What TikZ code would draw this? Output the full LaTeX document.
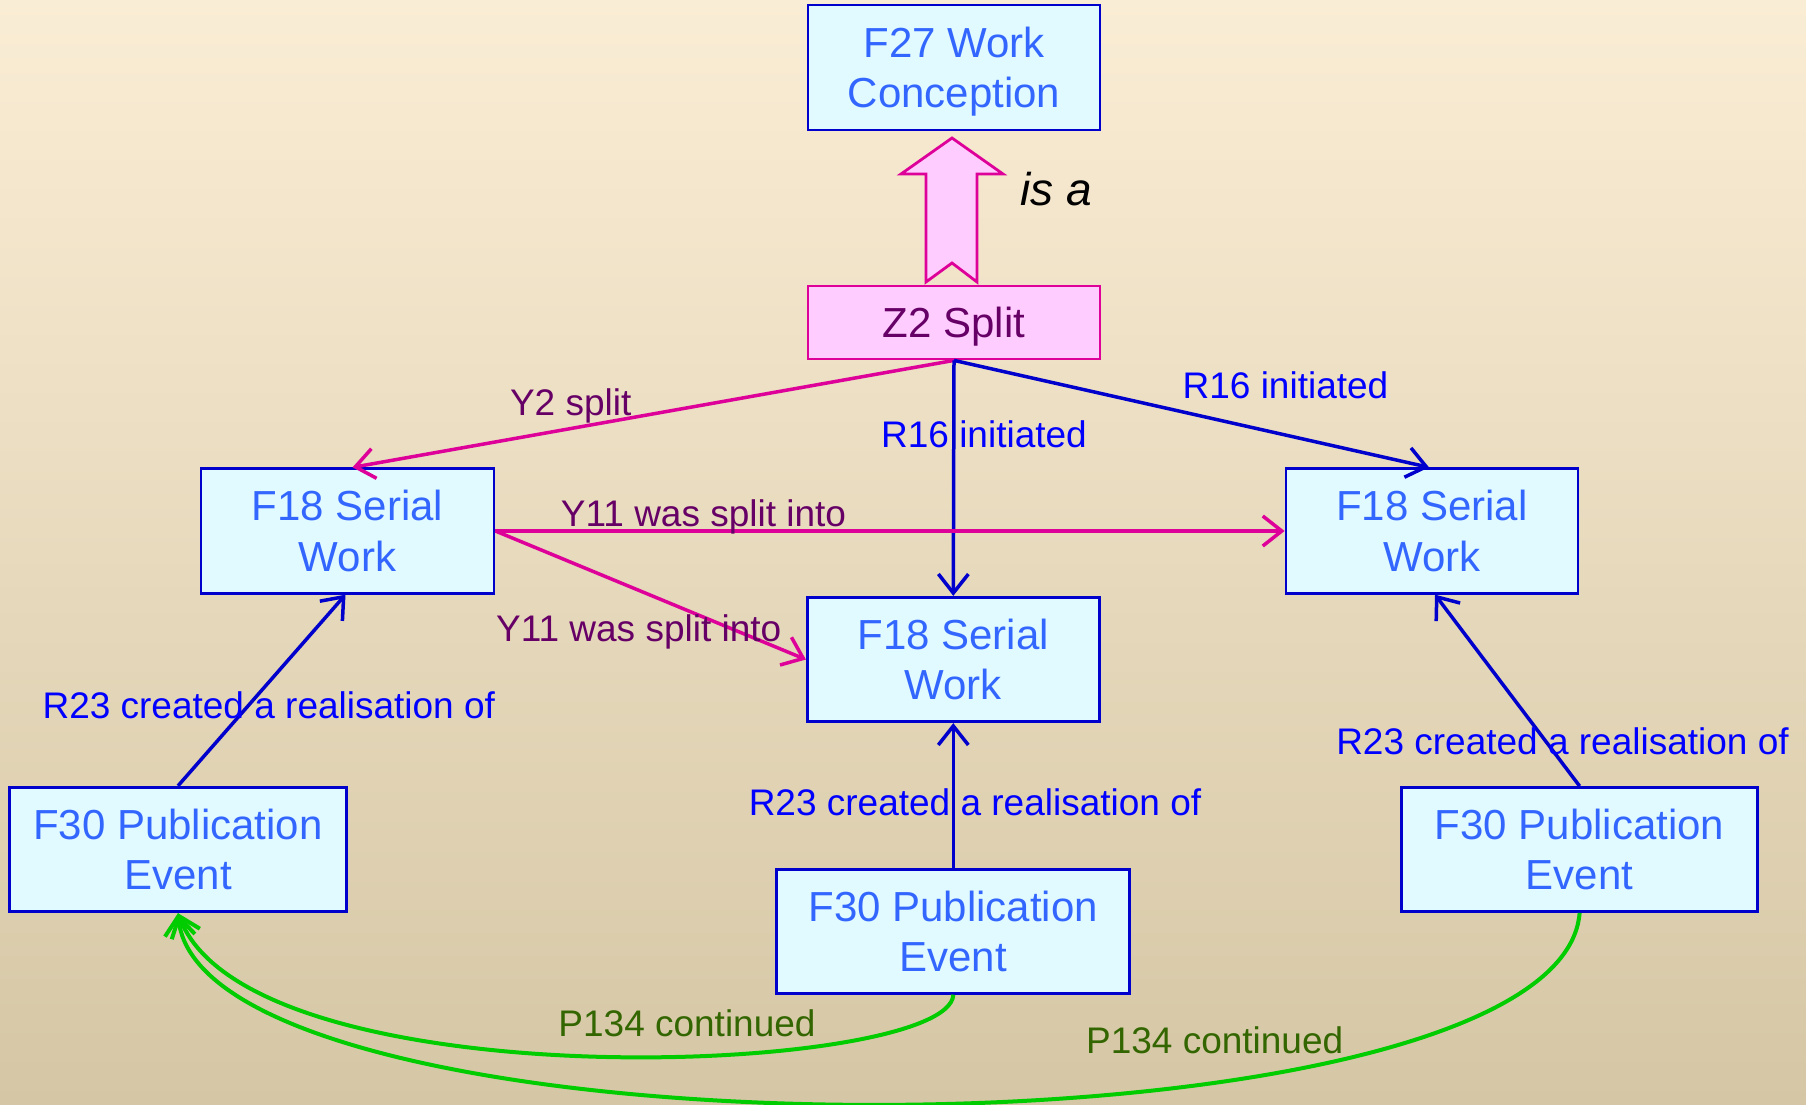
\documentclass[tikz,border=0pt]{standalone}
\usepackage{fontspec}
\setmainfont{Liberation Sans}
\usetikzlibrary{arrows.meta,calc}
\definecolor{bgtop}{RGB}{250,237,213}
\definecolor{bgmid}{RGB}{241,234,214}
\definecolor{bgbot}{RGB}{213,199,165}
\definecolor{boxfill}{RGB}{224,250,255}
\definecolor{boxdraw}{RGB}{0,0,204}
\definecolor{boxtext}{RGB}{51,102,255}
\definecolor{pinkfill}{RGB}{255,204,255}
\definecolor{magline}{RGB}{221,0,153}
\definecolor{purptext}{RGB}{102,0,102}
\definecolor{bluetext}{RGB}{0,0,255}
\definecolor{blueline}{RGB}{0,0,204}
\definecolor{greenline}{RGB}{0,204,0}
\definecolor{greentext}{RGB}{51,102,0}
\tikzset{
  entity/.style={draw=boxdraw, fill=boxfill, line width=2.8pt, text=boxtext,
    align=center, inner sep=0pt, minimum height=124.5pt, text depth=-2pt,
    font=\fontsize{42}{50.5}\selectfont},
  event/.style={draw=magline, fill=pinkfill, line width=2.8pt, text=purptext,
    align=center, inner sep=0pt, text depth=-2pt, font=\fontsize{42}{50.5}\selectfont},
  lbl/.style={anchor=base, inner sep=0pt, font=\fontsize{37}{44}\selectfont},
  tipv/.style={-{Straight Barb[length=19pt,width=30pt]}},
  magarr/.style={tipv, draw=magline, line width=3.5pt},
  bluearr/.style={tipv, draw=blueline, line width=3.5pt},
  greenarr/.style={tipv, draw=greenline, line width=4pt},
}
\begin{document}
\begin{tikzpicture}[x=1pt,y=-1pt]
\useasboundingbox (0,0) rectangle (1806,1105);
\shade[top color=bgtop, middle color=bgmid, bottom color=bgbot] (0,0) rectangle (1806,1105);

% nodes
\node[entity, minimum width=292pt, minimum height=125pt] (f27) at (954,67.5) {F27 Work\\Conception};
\node[event, minimum width=292pt, minimum height=73pt] (z2) at (954,322.5) {Z2 Split};
\node[entity, minimum width=293pt] (f18l) at (347.5,531) {F18 Serial\\Work};
\node[entity, minimum width=292pt] (f18r) at (1432,531) {F18 Serial\\Work};
\node[entity, minimum width=292pt] (f18m) at (953.3,659.5) {F18 Serial\\Work};
\node[entity, minimum width=337pt] (f30l) at (178,849.5) {F30 Publication\\Event};
\node[entity, minimum width=353pt, minimum height=124pt] (f30m) at (953.3,931.3) {F30 Publication\\Event};
\node[entity, minimum width=356pt, minimum height=124pt] (f30r) at (1579.6,849.5) {F30 Publication\\Event};

% "is a" block arrow
\draw[draw=magline, fill=pinkfill, line width=2.8pt, line join=miter]
  (952,138) -- (1003,174) -- (977,174) -- (977,282) -- (952,263)
  -- (926,282) -- (926,174) -- (901,174) -- cycle;
\node[anchor=base west, inner sep=0pt, font=\fontsize{46}{52}\selectfont\itshape] (isa) at (1020,205) {is a};

% edges
\draw[magarr] (z2.south) -- ($(f18l.north)+(5,0)$);
\draw[bluearr] (z2.south) -- (f18m.north);
\draw[bluearr] (z2.south) -- ($(f18r.north)+(-3,0)$);
\draw[magarr] (f18l.east) -- (f18r.west);
\draw[magarr] (f18l.east) -- (f18m.west);
\draw[bluearr] (f30l.north) -- ($(f18l.south)+(-2,0)$);
\draw[bluearr] (f30m.north) -- (f18m.south);
\draw[bluearr] (f30r.north) -- ($(f18r.south)+(3,0)$);
\draw[greenarr] (f30m.south) .. controls (950,1075) and (250,1105) .. (f30l.south);
\draw[greenarr] (f30r.south) .. controls (1560,1168) and (200,1168) .. (f30l.south);

% labels
\node[lbl, text=purptext] (ly2) at (570.7,415) {Y2 split};
\node[lbl, text=purptext] (ly11a) at (703.5,526.7) {Y11 was split into};
\node[lbl, text=purptext] (ly11b) at (638.7,641.7) {Y11 was split into};
\node[lbl, text=bluetext] (lr16a) at (984,447) {R16 initiated};
\node[lbl, text=bluetext] (lr16b) at (1285.5,398.3) {R16 initiated};
\node[lbl, text=bluetext] (lr23a) at (268.8,718.3) {R23 created a realisation of};
\node[lbl, text=bluetext] (lr23b) at (975,815) {R23 created a realisation of};
\node[lbl, text=bluetext] (lr23c) at (1562.5,754.5) {R23 created a realisation of};
\node[lbl, text=greentext] (lp1) at (687,1036.7) {P134 continued};
\node[lbl, text=greentext] (lp2) at (1214.7,1053) {P134 continued};
\end{tikzpicture}
\end{document}
